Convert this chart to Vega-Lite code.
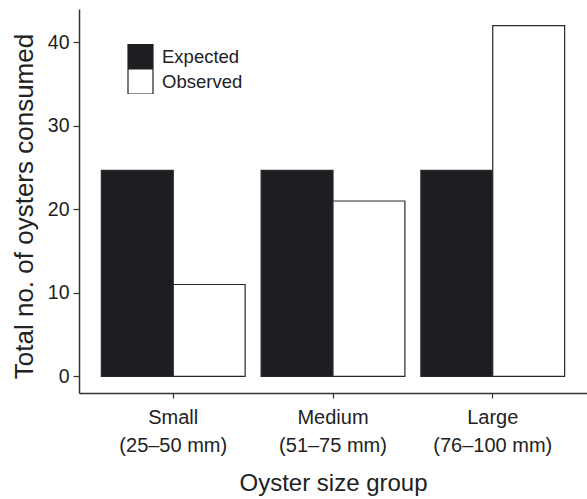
{
  "$schema": "https://vega.github.io/schema/vega-lite/v6.json",
  "width": 508,
  "height": 384,
  "autosize": {"type": "none"},
  "padding": {"left": 79, "top": 9, "right": 0, "bottom": 106},
  "background": "white",
  "config": {
    "view": {"stroke": null},
    "font": "Liberation Sans"
  },
  "data": {
    "values": [
      {"group": "Small|(25–50 mm)", "type": "Expected", "count": 24.67},
      {"group": "Small|(25–50 mm)", "type": "Observed", "count": 11},
      {"group": "Medium|(51–75 mm)", "type": "Expected", "count": 24.67},
      {"group": "Medium|(51–75 mm)", "type": "Observed", "count": 21},
      {"group": "Large|(76–100 mm)", "type": "Expected", "count": 24.67},
      {"group": "Large|(76–100 mm)", "type": "Observed", "count": 42}
    ]
  },
  "mark": {"type": "bar", "stroke": "#2a2a2a", "strokeWidth": 1.2},
  "encoding": {
    "x": {
      "field": "group",
      "type": "nominal",
      "sort": null,
      "scale": {"paddingInner": 0.1, "paddingOuter": 0.14},
      "axis": {
        "title": "Oyster size group",
        "titleFontSize": 24,
        "titleFontWeight": "normal",
        "titleColor": "#222",
        "titlePadding": 16,
        "labelExpr": "split(datum.value, '|')",
        "labelAngle": 0,
        "labelFontSize": 20,
        "labelColor": "#222",
        "labelLineHeight": 28,
        "labelPadding": 9,
        "tickSize": 5,
        "tickColor": "#333",
        "tickWidth": 1.2,
        "domainColor": "#333",
        "domainWidth": 1.5
      }
    },
    "xOffset": {
      "field": "type",
      "type": "nominal",
      "scale": {"paddingInner": 0, "paddingOuter": 0}
    },
    "y": {
      "field": "count",
      "type": "quantitative",
      "scale": {"domain": [-2, 44], "nice": false, "zero": false},
      "axis": {
        "title": "Total no. of oysters consumed",
        "titleFontSize": 26,
        "titleFontWeight": "normal",
        "titleColor": "#222",
        "titlePadding": 10,
        "titleY": 197,
        "values": [0, 10, 20, 30, 40],
        "labelFontSize": 19.5,
        "labelColor": "#222",
        "labelPadding": 4,
        "tickSize": 6,
        "tickColor": "#333",
        "tickWidth": 1.2,
        "grid": false,
        "domainColor": "#333",
        "domainWidth": 1.5
      }
    },
    "fill": {
      "field": "type",
      "type": "nominal",
      "scale": {"domain": ["Expected", "Observed"], "range": ["#1d1e21", "#ffffff"]},
      "legend": {
        "title": null,
        "orient": "none",
        "legendX": 48,
        "legendY": 35,
        "symbolType": "square",
        "symbolSize": 625,
        "symbolStrokeColor": "#222",
        "symbolStrokeWidth": 1.2,
        "symbolOpacity": 1,
        "rowPadding": 0,
        "clipHeight": 25,
        "labelFontSize": 18.5,
        "labelColor": "#222",
        "labelOffset": 8
      }
    }
  }
}
